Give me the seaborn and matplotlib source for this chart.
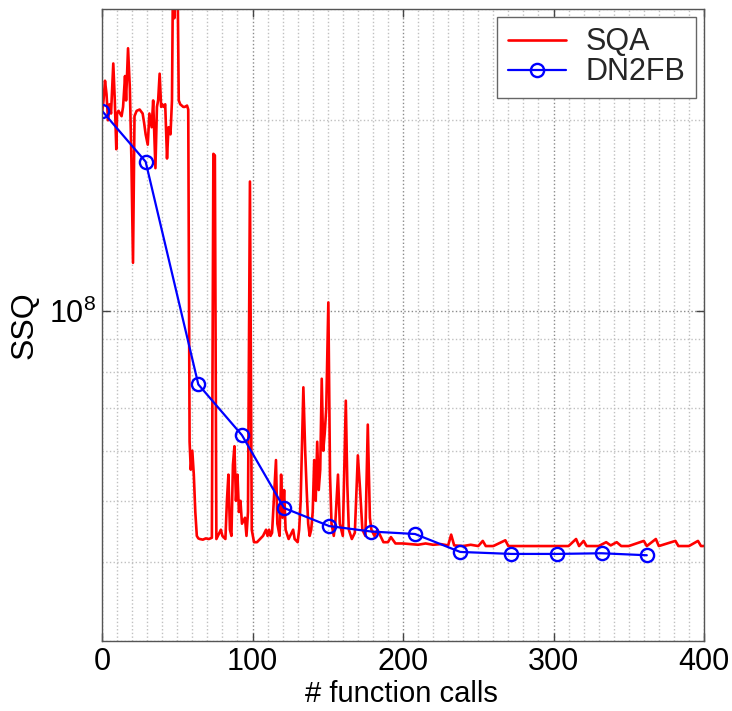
import numpy as np
import pandas as pd
import matplotlib
matplotlib.use("Agg")
import matplotlib.pyplot as plt
import seaborn as sns
from matplotlib.ticker import FixedLocator, MultipleLocator, NullFormatter, LogLocator, FixedFormatter

# ---------------- data (SSQ values in units of 1e6) ----------------
sqa_calls = [0, 1, 2, 3, 4, 5, 6, 7.5, 8.5, 9.5, 10, 11, 12, 13, 14, 15.3, 16, 17.3, 18.5, 19.5,
             20.6, 21.6, 23, 25, 27, 28, 29, 30.4, 31.5, 33, 34, 35.5, 36.5, 37.3, 38.3, 39.3, 40, 41, 42,
             43.2, 44.2, 45.5, 46.5, 47.2, 48, 49, 50, 51, 52, 54, 55, 56.5, 57.3,
             58.2, 59, 60, 61, 62, 63, 64, 65, 67, 69, 71, 73, 74, 75, 76, 78, 79, 80, 82,
             83, 84, 85, 86, 87, 88, 89, 90, 91, 92, 93, 95, 96, 97, 98.3, 99.5, 101, 103,
             105, 107, 109, 110, 111, 112, 113, 115.6, 116.5, 118, 119, 120, 121, 122, 124,
             126, 127, 128, 130, 131, 132, 133.8, 135, 136, 137, 138, 139, 140, 141, 142, 143,
             144, 145, 146, 147, 148, 149, 150.4, 151.5, 152.5, 154, 155, 156.8, 158, 160, 162,
             163, 164, 166, 168, 170, 171.5, 173, 175, 176.6, 178, 179, 181, 183, 185, 187,
             190, 192, 195, 200, 205, 210, 215, 220, 225, 230, 232, 234, 240, 245, 250, 253,
             255, 260, 268, 270, 280, 290, 300, 310, 315, 317, 320, 322, 330, 335, 338, 342,
             345, 350, 360, 362, 368, 370, 381, 383, 390, 396, 398, 400]
sqa_ssq = [205, 215, 231, 220, 200, 212, 205, 246, 215, 180, 205, 207, 205, 203, 210, 235, 215, 260, 225, 175,
           119, 203, 207, 208, 205, 198, 190, 183, 205, 195, 215, 168, 210, 215, 237, 210, 212, 210, 212,
           174, 195, 190, 215, 350, 290, 400, 380, 215, 212, 210, 210, 211, 208,
           62, 56, 60, 55, 48, 44, 43.6, 43.5, 43.4, 43.6, 43.5, 43.7, 177, 176, 43.5, 44.5, 45, 44, 43.5,
           50, 55, 45, 44, 57, 61, 50, 55, 48, 50, 46, 47, 44, 48, 160, 45, 43, 43,
           43.5, 44, 45, 44, 45, 44, 44.5, 58, 46, 44, 55, 47, 52, 45, 43.5,
           44.5, 45, 43.5, 43, 45, 50, 75.6, 60, 52, 46, 44, 45, 48, 58, 50, 62,
           52, 56, 78, 60, 64, 70, 103, 55, 46, 44, 46, 55, 46, 44, 72,
           53, 45, 43.5, 44.5, 59, 52, 45, 44, 66, 47, 45, 44, 45, 44, 43,
           43, 43.8, 42.8, 42.8, 42.7, 42.6, 42.8, 42.6, 42.7, 42.5, 44.2, 42.5, 42.4, 42.6, 42.4, 43.2,
           42.4, 42.4, 43.3, 42.4, 42.4, 42.4, 42.4, 42.4, 43.5, 42.4, 43.2, 42.4, 42.4, 43.0, 42.5, 43.0,
           42.4, 42.4, 43.2, 42.4, 43.5, 42.4, 43.2, 42.4, 42.4, 43.2, 42.4, 42.4]

dn2fb_calls = [0, 29, 64, 93, 121, 151, 179, 208, 238, 272, 302, 332, 362]
dn2fb_ssq = [207, 172, 76.4, 63.5, 48.7, 45.6, 44.7, 44.3, 41.5, 41.2, 41.2, 41.3, 41.0]

x_ticks = [0, 100, 200, 300, 400]
x_label = "# function calls"
y_label = "SSQ"
series_names = ["SQA", "DN2FB"]

# ---------------- styling ----------------
sns.set_theme(style="white")
plt.rcParams['font.family'] = ['Liberation Sans', 'DejaVu Sans']
plt.rcParams['mathtext.fontset'] = 'custom'
plt.rcParams['mathtext.rm'] = 'Liberation Sans'
plt.rcParams['mathtext.it'] = 'Liberation Sans'

FS = 22

fig = plt.figure(figsize=(7.32, 7.11), dpi=100)
ax = fig.add_axes([102 / 732, 70 / 711, 602 / 732, 632 / 711])

sqa = pd.DataFrame({"calls": sqa_calls, "ssq": np.array(sqa_ssq) * 1e6})
dn = pd.DataFrame({"calls": dn2fb_calls, "ssq": np.array(dn2fb_ssq) * 1e6})

sns.lineplot(data=sqa, x="calls", y="ssq", ax=ax, color="#ff0000", linewidth=1.9,
             label=series_names[0], sort=False, estimator=None)
sns.lineplot(data=dn, x="calls", y="ssq", ax=ax, color="#0000ff", linewidth=1.6,
             marker="o", markersize=9.5, markerfacecolor="none", markeredgecolor="#0000ff",
             markeredgewidth=1.7, label=series_names[1], sort=False, estimator=None)

ax.set_yscale("log")
ax.set_xlim(0, 400)
ax.set_ylim(3e7, 3e8)

ax.xaxis.set_major_locator(FixedLocator(x_ticks))
ax.xaxis.set_minor_locator(MultipleLocator(10))
ax.yaxis.set_major_locator(FixedLocator([1e8]))
ax.yaxis.set_major_formatter(FixedFormatter([r"$10^{8}$"]))
ax.yaxis.set_minor_locator(LogLocator(base=10, subs=np.arange(2, 10)))
ax.yaxis.set_minor_formatter(NullFormatter())

ax.grid(True, which="major", linestyle=":", color="#8a8a8a", linewidth=1.0)
ax.grid(True, which="minor", linestyle=":", color="#c0c0c0", linewidth=1.0)
ax.set_axisbelow(True)

ax.tick_params(which="both", direction="in", top=True, right=True, bottom=True, left=True,
               colors="#444444", labelcolor="black")
ax.tick_params(which="major", length=6, width=1, labelsize=FS)
ax.tick_params(axis="x", which="major", pad=4)
ax.tick_params(axis="y", which="major", pad=4)
ax.tick_params(which="minor", length=0)
for s in ax.spines.values():
    s.set_color("#555555")
    s.set_linewidth(1.0)

ax.set_xlabel(x_label, fontsize=FS - 1, color="black")
ax.set_ylabel(y_label, fontsize=FS + 1, color="black")
ax.xaxis.set_label_coords(0.497, -0.0617)
ax.yaxis.set_label_coords(-0.104, 0.5)

leg = ax.legend(loc="upper right", fontsize=FS, frameon=True, fancybox=False, framealpha=1,
                edgecolor="#666666", borderaxespad=0.25, handlelength=1.9, handletextpad=0.65,
                borderpad=0.35, labelspacing=0.0)
leg.get_frame().set_linewidth(1.0)

fig.savefig("out.png", dpi=100)
